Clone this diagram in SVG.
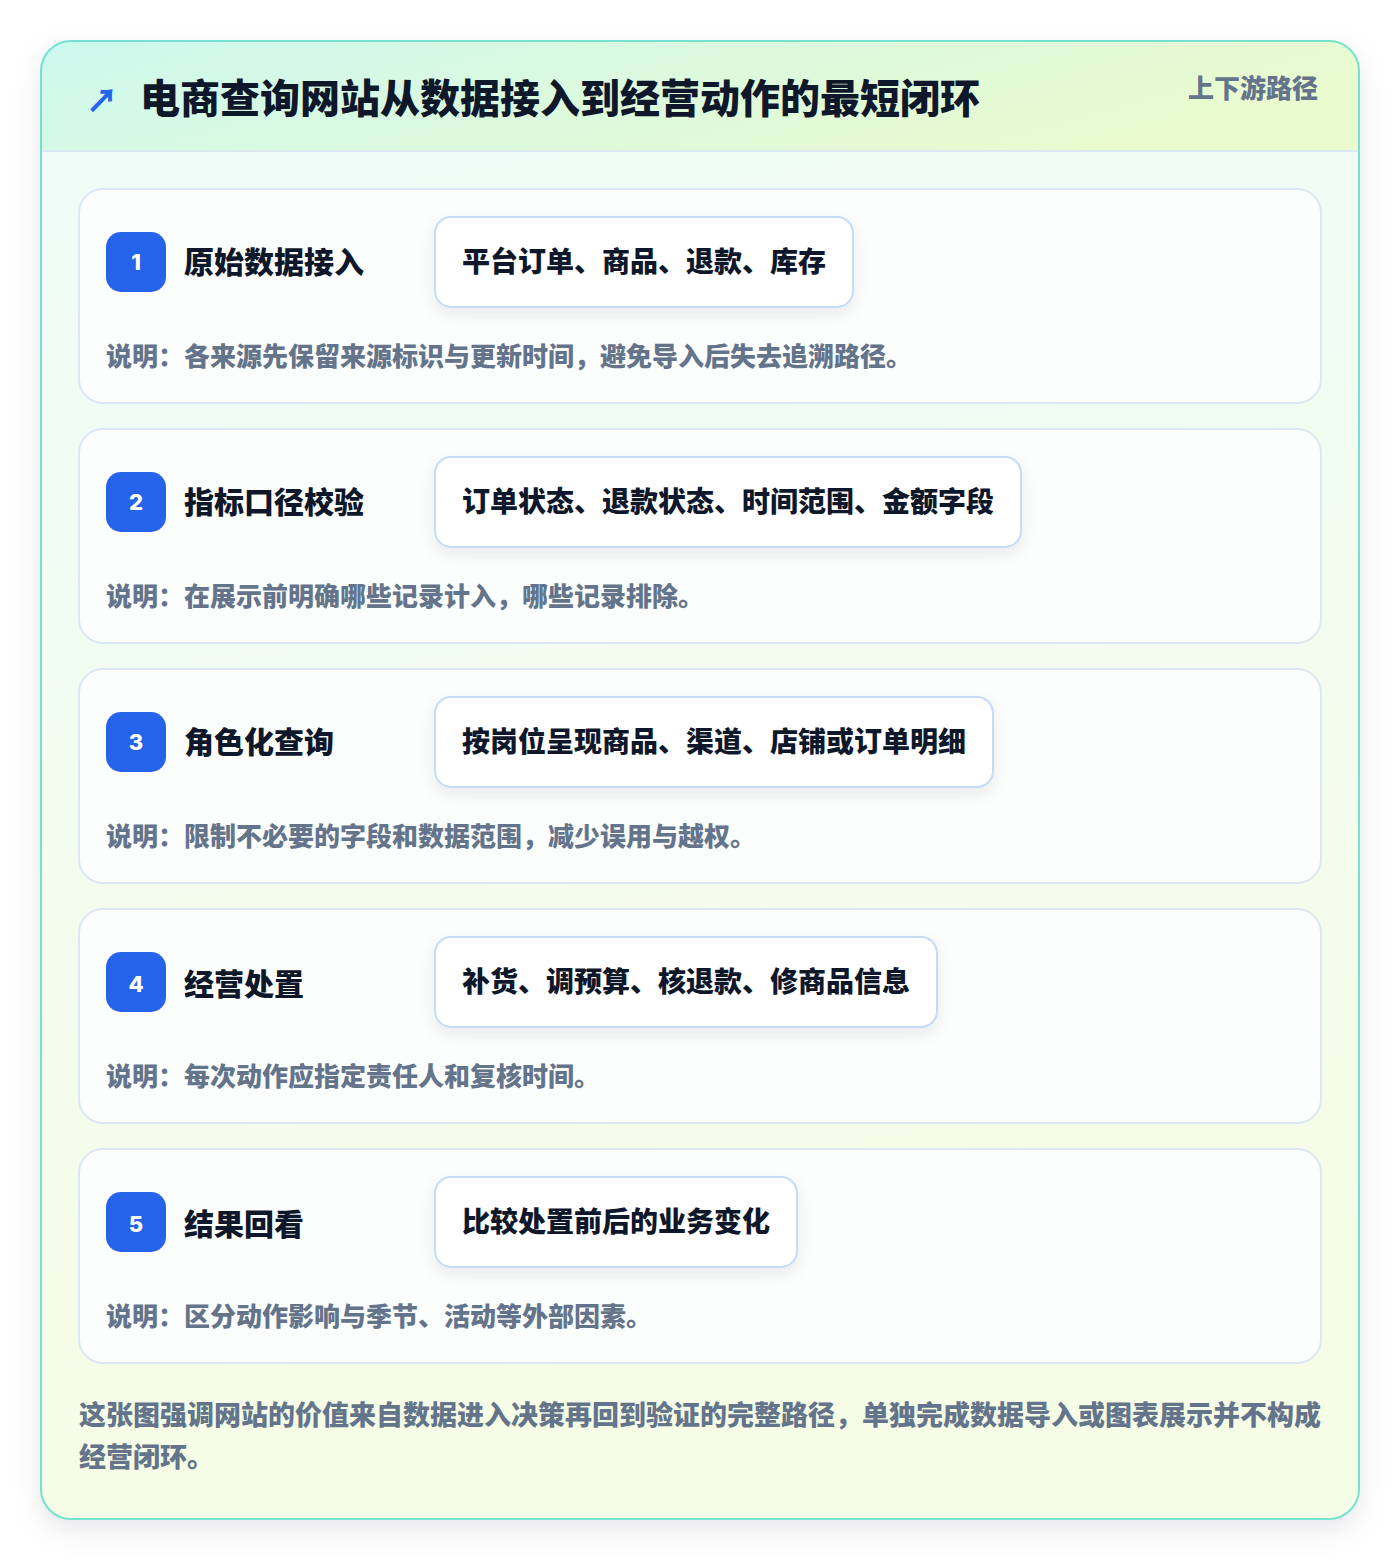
<svg xmlns="http://www.w3.org/2000/svg" width="1400" height="1560" viewBox="0 0 1400 1560">
<defs>
<linearGradient id="hdr" x1="0" y1="0" x2="1" y2="0.3">
<stop offset="0" stop-color="#cdf8ee"/><stop offset="1" stop-color="#e9fbcf"/>
</linearGradient>
<linearGradient id="body" x1="0" y1="0" x2="0.15" y2="1">
<stop offset="0" stop-color="#effcf9"/><stop offset="1" stop-color="#f6fde6"/>
</linearGradient>
<filter id="sh" x="-10%" y="-10%" width="120%" height="120%">
<feDropShadow dx="0" dy="10" stdDeviation="14" flood-color="#0f172a" flood-opacity="0.10"/>
</filter>
<filter id="psh" x="-20%" y="-40%" width="140%" height="180%">
<feDropShadow dx="0" dy="6" stdDeviation="8" flood-color="#0f172a" flood-opacity="0.08"/>
</filter>
<clipPath id="outerClip"><rect x="41" y="41" width="1318" height="1478" rx="30"/></clipPath>
</defs>
<style>
text{font-family:"Noto Sans CJK SC","Noto Sans",sans-serif;font-weight:800}
.card{fill:#fcfefd;stroke:#dbe8f4;stroke-width:2}
.badge{fill:#2563eb}
.num{fill:#ffffff;font-size:22px;font-family:"Inter","Noto Sans",sans-serif;font-weight:800;text-anchor:middle}
.ttl{fill:#0f172a;font-size:30px;font-weight:900}
.pill{fill:#ffffff;stroke:#c4dcf7;stroke-width:2}
.ptx{fill:#0f172a;font-size:28px;font-weight:900}
.desc{fill:#64748b;font-size:26px}
.foot{fill:#64748b;font-size:27px}
</style>
<rect width="1400" height="1560" fill="#ffffff"/>
<g id="frame">
<rect x="41" y="41" width="1318" height="1478" rx="30" fill="url(#body)" filter="url(#sh)"/>
<rect x="41" y="41" width="1318" height="110" fill="url(#hdr)" clip-path="url(#outerClip)"/>
<line x1="42" y1="151" x2="1358" y2="151" stroke="#d9e8f3" stroke-width="2"/>
<rect x="41" y="41" width="1318" height="1478" rx="30" fill="none" stroke="#74e2cf" stroke-width="2"/>
</g>
<g id="header">
<text x="86" y="112" font-size="32" fill="#2563eb" font-family="DejaVu Sans,sans-serif">↗</text>
<text x="140" y="113" font-size="40" fill="#0f172a" font-weight="900">电商查询网站从数据接入到经营动作的最短闭环</text>
<text x="1318" y="98" font-size="26" fill="#64748b" text-anchor="end">上下游路径</text>
</g>
<g id="step1" transform="translate(0,189)">
<rect class="card" x="79" y="0" width="1242" height="214" rx="24"/>
<rect class="badge" x="106" y="43" width="60" height="60" rx="15"/>
<text class="num" x="136" y="81">1</text>
<text class="ttl" x="184" y="84">原始数据接入</text>
<rect class="pill" x="435" y="28" width="418" height="90" rx="16" filter="url(#psh)"/>
<text class="ptx" x="462" y="83">平台订单、商品、退款、库存</text>
<text class="desc" x="106" y="177">说明：各来源先保留来源标识与更新时间，避免导入后失去追溯路径。</text>
</g>
<g id="step2" transform="translate(0,429)">
<rect class="card" x="79" y="0" width="1242" height="214" rx="24"/>
<rect class="badge" x="106" y="43" width="60" height="60" rx="15"/>
<text class="num" x="136" y="81">2</text>
<text class="ttl" x="184" y="84">指标口径校验</text>
<rect class="pill" x="435" y="28" width="586" height="90" rx="16" filter="url(#psh)"/>
<text class="ptx" x="462" y="83">订单状态、退款状态、时间范围、金额字段</text>
<text class="desc" x="106" y="177">说明：在展示前明确哪些记录计入，哪些记录排除。</text>
</g>
<g id="step3" transform="translate(0,669)">
<rect class="card" x="79" y="0" width="1242" height="214" rx="24"/>
<rect class="badge" x="106" y="43" width="60" height="60" rx="15"/>
<text class="num" x="136" y="81">3</text>
<text class="ttl" x="184" y="84">角色化查询</text>
<rect class="pill" x="435" y="28" width="558" height="90" rx="16" filter="url(#psh)"/>
<text class="ptx" x="462" y="83">按岗位呈现商品、渠道、店铺或订单明细</text>
<text class="desc" x="106" y="177">说明：限制不必要的字段和数据范围，减少误用与越权。</text>
</g>
<g id="step4" transform="translate(0,909)">
<rect class="card" x="79" y="0" width="1242" height="214" rx="24"/>
<rect class="badge" x="106" y="43" width="60" height="60" rx="15"/>
<text class="num" x="136" y="83">4</text>
<text class="ttl" x="184" y="86">经营处置</text>
<rect class="pill" x="435" y="28" width="502" height="90" rx="16" filter="url(#psh)"/>
<text class="ptx" x="462" y="83">补货、调预算、核退款、修商品信息</text>
<text class="desc" x="106" y="177">说明：每次动作应指定责任人和复核时间。</text>
</g>
<g id="step5" transform="translate(0,1149)">
<rect class="card" x="79" y="0" width="1242" height="214" rx="24"/>
<rect class="badge" x="106" y="43" width="60" height="60" rx="15"/>
<text class="num" x="136" y="83">5</text>
<text class="ttl" x="184" y="86">结果回看</text>
<rect class="pill" x="435" y="28" width="362" height="90" rx="16" filter="url(#psh)"/>
<text class="ptx" x="462" y="83">比较处置前后的业务变化</text>
<text class="desc" x="106" y="177">说明：区分动作影响与季节、活动等外部因素。</text>
</g>
<g id="connectors"/>
<g id="footer">
<text class="foot" x="79" y="1425">这张图强调网站的价值来自数据进入决策再回到验证的完整路径，单独完成数据导入或图表展示并不构成</text>
<text class="foot" x="79" y="1467">经营闭环。</text>
</g>
</svg>
